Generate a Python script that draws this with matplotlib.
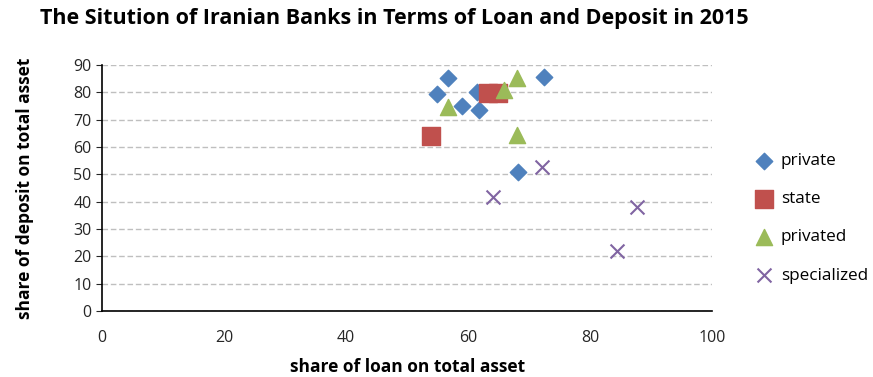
import numpy as np
import matplotlib.pyplot as plt

plt.rcParams['font.family'] = ['Open Sans', 'DejaVu Sans']

# values (share of loan, share of deposit)
private_x = [56.7, 54.9, 59.0, 61.8, 61.5, 72.5, 68.2]
private_y = [85.3, 79.4, 75.1, 73.5, 80.2, 85.7, 50.9]
state_x = [54.0, 63.3, 64.9]
state_y = [64.0, 79.8, 79.8]
privated_x = [56.7, 68.0, 65.9, 68.0]
privated_y = [74.5, 85.3, 80.8, 64.5]
special_x = [72.1, 64.0, 87.6, 84.4]
special_y = [52.8, 41.6, 37.9, 22.1]

fig = plt.figure(figsize=(8.73, 3.77), dpi=100)
ax = fig.add_axes([0.1168, 0.175, 0.699, 0.6524])

ax.scatter(private_x, private_y, marker='D', s=70, color='#4F81BD', label='private', zorder=3)
ax.scatter(state_x, state_y, marker='s', s=150, color='#C0504D', label='state', zorder=3)
ax.scatter(privated_x, privated_y, marker='^', s=135, color='#9BBB59', label='privated', zorder=3)
ax.scatter(special_x, special_y, marker='x', s=100, color='#8064A2', linewidths=1.5, label='specialized', zorder=3)

ax.set_xlim(0, 100)
ax.set_ylim(0, 90)
ax.set_xticks(np.arange(0, 101, 20))
ax.set_yticks(np.arange(0, 91, 10))
ax.grid(axis='y', linestyle=(0, (4, 2)), color='#BFBFBF', linewidth=1)
ax.set_axisbelow(True)
for s in ['top', 'right']:
    ax.spines[s].set_visible(False)
ax.spines['left'].set_linewidth(1.2)
ax.spines['bottom'].set_linewidth(1.2)
ax.tick_params(axis='both', labelsize=11.5, length=4, direction='out', colors='#262626')
ax.tick_params(axis='x', length=0, pad=14)

ax.set_xlabel('share of loan on total asset', fontsize=12.5, fontweight='bold', labelpad=8)
ax.set_ylabel('share of deposit on total asset', fontsize=12.5, fontweight='bold', labelpad=28)
fig.text(0.452, 0.952, 'The Sitution of Iranian Banks in Terms of Loan and Deposit in 2015',
         fontsize=15.5, fontweight='bold', ha='center', va='center')

leg = ax.legend(loc='center left', bbox_to_anchor=(1.045, 0.377), frameon=False,
                fontsize=12.3, labelspacing=1.3, handletextpad=0.0, scatterpoints=1,
                borderaxespad=0.0)

fig.savefig('out.png', dpi=100)
